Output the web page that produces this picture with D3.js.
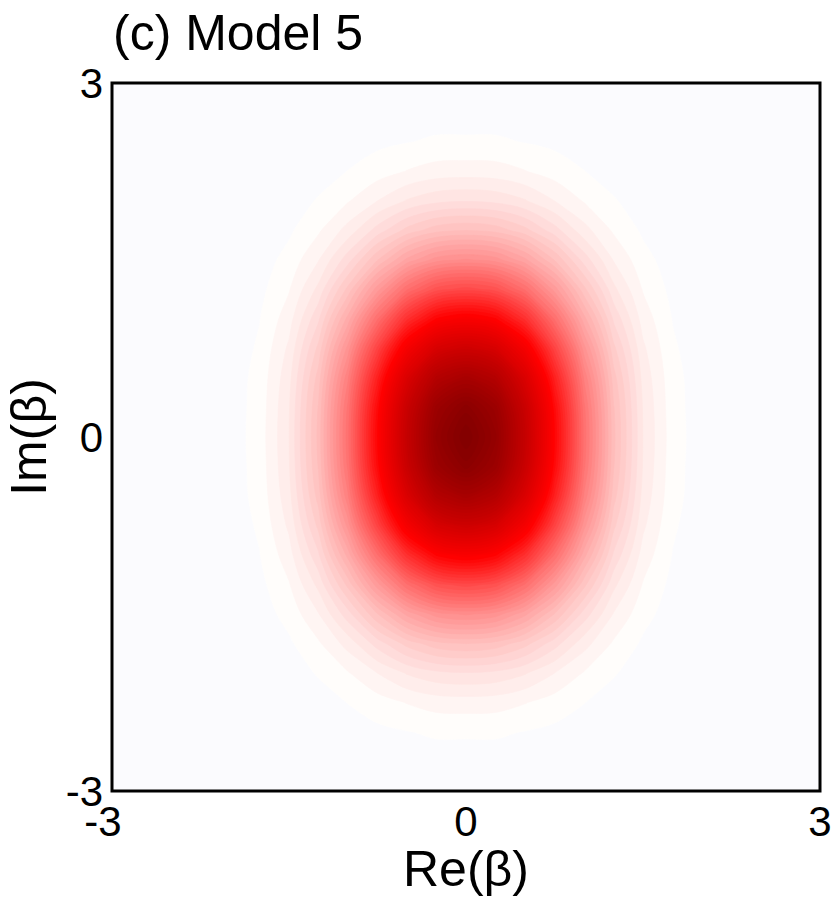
<!DOCTYPE html>
<html>
<meta charset="utf-8">
<head>
  <title>(c) Model 5</title>
</head>

<style>
body {
  margin: 0;
  background: white;
}
text {
  font-family: "Liberation Sans", Arial, Helvetica, sans-serif;
  fill: black;
}
</style>

<body>
  <div id="chart"></div>

  <script src="https://d3js.org/d3.v7.min.js"></script>
  <script>

// grid of one quadrant (Re >= 0, Im >= 0), the picture is mirror symmetric
var gridRe = [0, 0.25, 0.5, 0.75, 1, 1.25, 1.5, 1.75, 2, 2.25, 2.5, 2.75, 3];
var gridIm = [0, 0.25, 0.5, 0.75, 1, 1.25, 1.5, 1.75, 2, 2.25, 2.5, 2.75, 3];

// values, normalised to the peak; rows = Im, cols = Re
var quadrant = [
  [1.000, 0.926, 0.735, 0.499, 0.291, 0.145, 0.062, 0.023, 0.007, 0.002, 0, 0, 0],
  [0.961, 0.898, 0.716, 0.488, 0.285, 0.142, 0.061, 0.022, 0.007, 0.002, 0, 0, 0],
  [0.852, 0.804, 0.650, 0.447, 0.263, 0.132, 0.057, 0.021, 0.007, 0.002, 0, 0, 0],
  [0.698, 0.662, 0.543, 0.379, 0.225, 0.114, 0.050, 0.018, 0.006, 0.002, 0, 0, 0],
  [0.527, 0.502, 0.417, 0.295, 0.178, 0.091, 0.040, 0.015, 0.005, 0.001, 0, 0, 0],
  [0.368, 0.352, 0.295, 0.212, 0.130, 0.067, 0.030, 0.011, 0.004, 0.001, 0, 0, 0],
  [0.237, 0.227, 0.192, 0.140, 0.087, 0.046, 0.021, 0.008, 0.003, 0.001, 0, 0, 0],
  [0.141, 0.135, 0.115, 0.085, 0.053, 0.029, 0.013, 0.005, 0.002, 0, 0, 0, 0],
  [0.077, 0.074, 0.064, 0.047, 0.030, 0.017, 0.008, 0.003, 0.001, 0, 0, 0, 0],
  [0.039, 0.038, 0.032, 0.024, 0.016, 0.009, 0.004, 0.002, 0, 0, 0, 0, 0],
  [0.018, 0.018, 0.015, 0.012, 0.008, 0.004, 0.002, 0.001, 0, 0, 0, 0, 0],
  [0.008, 0.008, 0.007, 0.005, 0.003, 0.002, 0.001, 0, 0, 0, 0, 0, 0],
  [0.003, 0.003, 0.003, 0.002, 0.001, 0.001, 0, 0, 0, 0, 0, 0, 0]
];

var tickValues = [-3, 0, 3];
var titleText = "(c) Model 5";
var xLabel = "Re(\u03b2)";
var yLabel = "Im(\u03b2)";

// full grid by mirroring the quadrant
var q = gridRe.length;
var n = 2 * q - 1;
var values = [];
for (var j = 0; j < n; j++) {
  var jj = Math.abs(j - (q - 1));
  for (var i = 0; i < n; i++) {
    var ii = Math.abs(i - (q - 1));
    values.push(quadrant[jj][ii]);
  }
}

const width = 839, height = 900;

const svg = d3.select('#chart')
  .append('svg')
  .attr('width', width)
  .attr('height', height);

var x = d3.scaleLinear().domain([-3, 3]).range([112, 820]);
var y = d3.scaleLinear().domain([-3, 3]).range([791, 83]);

// grid index -> data coords (sample i sits at i + 0.5 in d3.contours space)
var gx = d3.scaleLinear().domain([0.5, n - 0.5]).range([-gridRe[q - 1], gridRe[q - 1]]);
var gy = d3.scaleLinear().domain([0.5, n - 0.5]).range([-gridIm[q - 1], gridIm[q - 1]]);

// background of the plot box
svg.append('rect')
  .attr('x', x(-3))
  .attr('y', y(3))
  .attr('width', x(3) - x(-3))
  .attr('height', y(-3) - y(3))
  .attr('fill', '#fbfbfe');

// 64 level colour map: white -> red -> dark red
var thresholds = d3.range(1, 64).map(function(k) { return k / 64; });
var color = d3.scaleLinear()
  .domain([1 / 64, 0.5, 1])
  .range(['#fffdfb', '#ff0000', '#800000']);

var contours = d3.contours()
  .size([n, n])
  .thresholds(thresholds)(values);

var ringLine = d3.line()
  .x(function(p) { return x(gx(p[0])); })
  .y(function(p) { return y(gy(p[1])); })
  .curve(d3.curveCatmullRomClosed.alpha(0.5));

function contourPath(c) {
  var d = '';
  c.coordinates.forEach(function(poly) {
    poly.forEach(function(ring) {
      d += ringLine(ring.slice(0, ring.length - 1));
    });
  });
  return d;
}

svg.append('g')
  .selectAll('path')
  .data(contours)
  .join('path')
  .attr('d', contourPath)
  .attr('fill-rule', 'evenodd')
  .attr('fill', function(c) { return color(c.value); })
  .attr('stroke', function(c) { return color(c.value); })
  .attr('stroke-width', 0.6);

// frame
svg.append('rect')
  .attr('x', x(-3))
  .attr('y', y(3))
  .attr('width', x(3) - x(-3))
  .attr('height', y(-3) - y(3))
  .attr('fill', 'none')
  .attr('stroke', 'black')
  .attr('stroke-width', 3);

// tick labels
svg.append('g')
  .selectAll('text')
  .data(tickValues)
  .join('text')
  .attr('x', function(d) { return x(d) + (d < 0 ? -9 : 0); })
  .attr('y', 836)
  .attr('text-anchor', 'middle')
  .style('font-size', '42px')
  .text(function(d) { return d; });

svg.append('g')
  .selectAll('text')
  .data(tickValues)
  .join('text')
  .attr('x', 103)
  .attr('y', function(d) { return y(d) + 15; })
  .attr('text-anchor', 'end')
  .style('font-size', '42px')
  .text(function(d) { return d; });

// axis labels and title
svg.append('text')
  .attr('x', x(0))
  .attr('y', 886)
  .attr('text-anchor', 'middle')
  .style('font-size', '50px')
  .text(xLabel);

svg.append('text')
  .attr('transform', 'translate(46,' + y(0) + ') rotate(-90)')
  .attr('text-anchor', 'middle')
  .style('font-size', '50px')
  .text(yLabel);

svg.append('text')
  .attr('x', 113)
  .attr('y', 50)
  .style('font-size', '50px')
  .text(titleText);

  </script>
</body>
</html>
